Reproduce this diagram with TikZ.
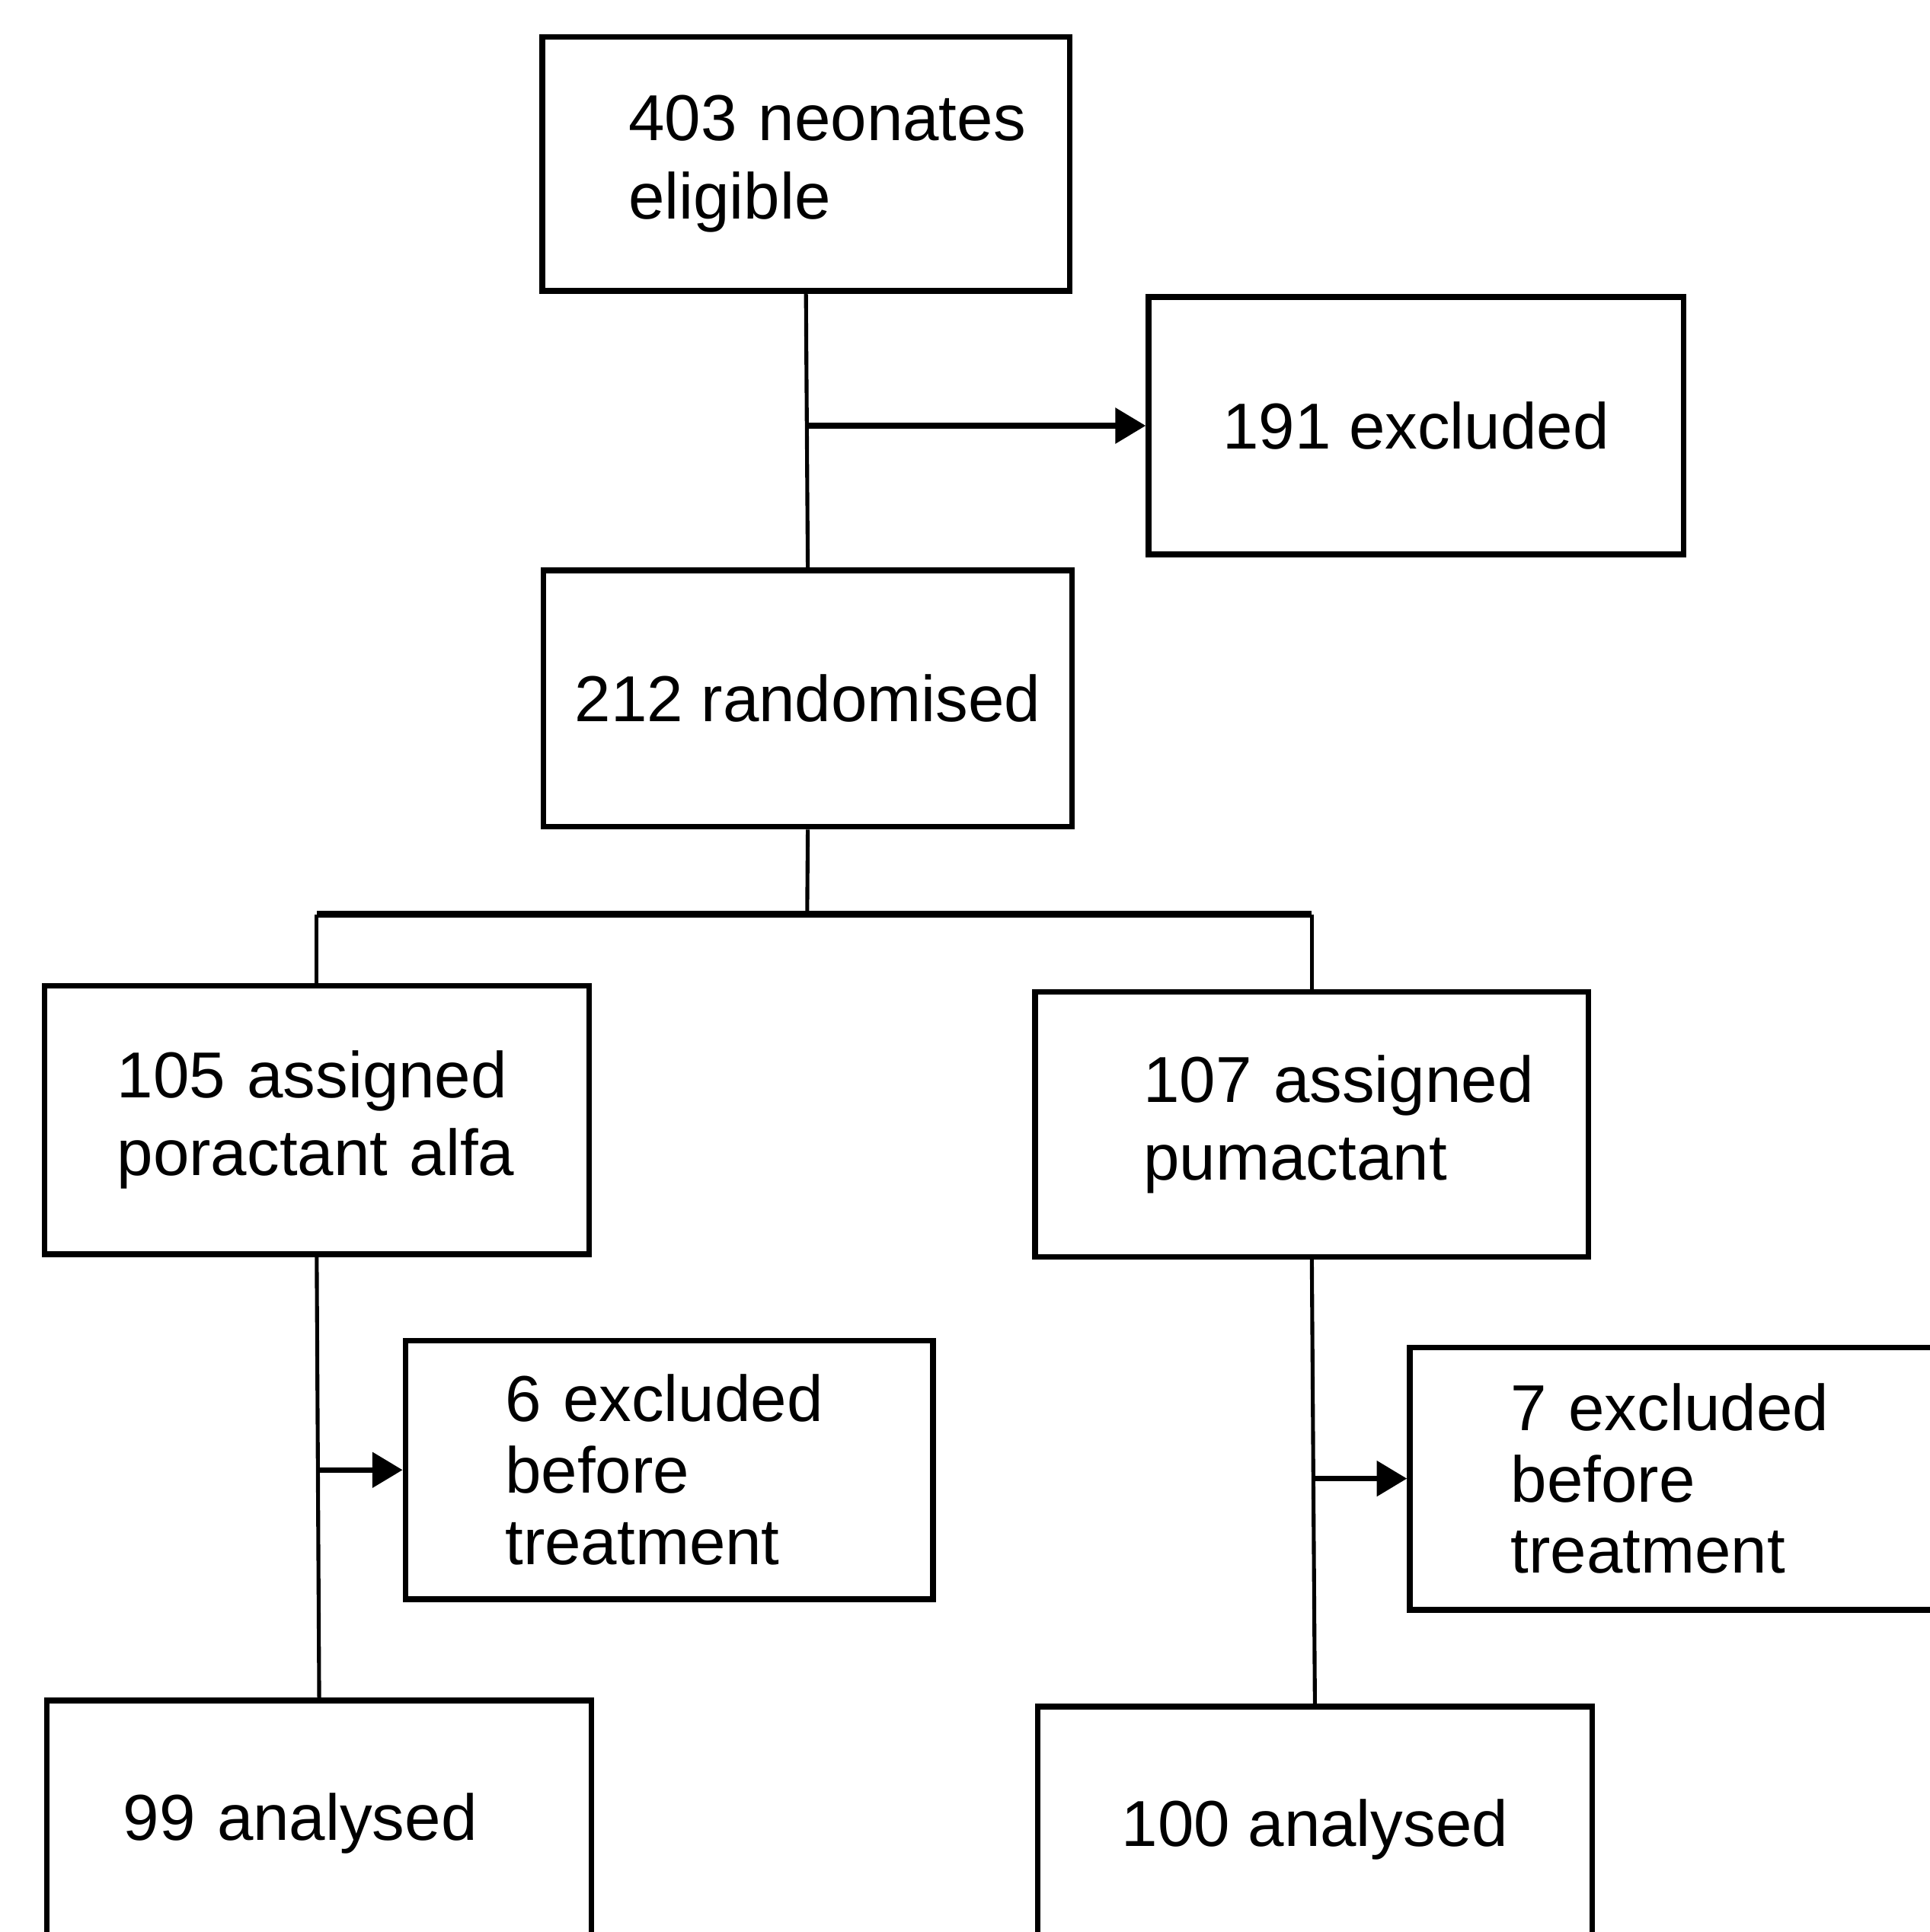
\documentclass[tikz,border=0pt]{standalone}
\usepackage{fontspec}
\setmainfont{Liberation Sans}
\usetikzlibrary{arrows.meta}

\begin{document}
\begin{tikzpicture}
\useasboundingbox (0,0) rectangle (15.66,-15.68);
\clip (0,0) rectangle (15.66,-15.68);

\coordinate (P_elig) at (6.54, -1.33);
\coordinate (P_excl) at (11.49, -3.455);
\coordinate (P_rand) at (6.555, -5.67);
\coordinate (P_alfa) at (2.57, -9.09);
\coordinate (P_puma) at (10.645, -9.125);
\coordinate (P_exclA) at (5.43, -11.93);
\coordinate (P_exclP) at (13.62, -12.0);
\coordinate (P_anA) at (2.59, -14.80);
\coordinate (P_anP) at (10.67, -14.85);
\coordinate (Fork) at (6.55, -7.42);


\tikzset{BoxStyle/.style = {
 draw,
 line width = 1.3pt,
 inner sep = 0pt,
 text = black,
 font = \fontsize{15}{18}\selectfont} }
\tikzset{TightStyle/.style = {BoxStyle, font = \fontsize{15}{16.5}\selectfont} }

\node[BoxStyle, minimum width=4.28cm, minimum height=2.06cm, align=left, text width=2.88cm] (Elig) at (P_elig) {\mbox{403 neonates}\\eligible};
\node[BoxStyle, minimum width=4.34cm, minimum height=2.09cm, align=center] (Excl) at (P_excl) {191 excluded};
\node[BoxStyle, minimum width=4.29cm, minimum height=2.08cm, align=center] (Rand) at (P_rand) {212 randomised};
\node[BoxStyle, minimum width=4.42cm, minimum height=2.18cm, align=left, text width=3.24cm] (Alfa) at (P_alfa) {\mbox{105 assigned}\\\mbox{poractant alfa}};
\node[BoxStyle, minimum width=4.49cm, minimum height=2.15cm, align=left, text width=2.73cm] (Puma) at (P_puma) {\mbox{107 assigned}\\pumactant};
\node[TightStyle, minimum width=4.28cm, minimum height=2.10cm, align=left, text width=2.66cm] (ExclA) at (P_exclA) {\mbox{6 excluded}\\before\\treatment};
\node[TightStyle, minimum width=4.36cm, minimum height=2.13cm, align=left, text width=2.72cm] (ExclP) at (P_exclP) {\mbox{7 excluded}\\before\\treatment};
\node[BoxStyle, minimum width=4.42cm, minimum height=2.00cm, align=left, text width=3.18cm] (AnA) at (P_anA) {\mbox{99 analysed}};
\node[BoxStyle, minimum width=4.50cm, minimum height=2.00cm, align=center] (AnP) at (P_anP) {100 analysed};


\tikzset{LinkStyle/.style = {line width=0.9pt} }
\tikzset{BarStyle/.style = {line width=1.5pt} }
\tikzset{ArrowStyle/.style = {line width=1.3pt, -{Triangle[length=7pt, width=8pt]}} }

\coordinate (J1) at (Elig.south |- Excl.west);
\coordinate (J2) at (Alfa.south |- ExclA.west);
\coordinate (J3) at (Puma.south |- ExclP.west);
\coordinate (ForkL) at (Alfa.north |- Fork);
\coordinate (ForkR) at (Puma.north |- Fork);

\draw[LinkStyle] (Elig.south) -- (Rand.north);
\draw[ArrowStyle] (J1) -- (Excl.west);
\draw[LinkStyle] (Rand.south) -- (Fork);
\draw[BarStyle] (ForkL) -- (ForkR);
\draw[LinkStyle] (ForkL) -- (Alfa.north);
\draw[LinkStyle] (ForkR) -- (Puma.north);
\draw[LinkStyle] (Alfa.south) -- (AnA.north);
\draw[LinkStyle] (Puma.south) -- (AnP.north);
\draw[ArrowStyle] (J2) -- (ExclA.west);
\draw[ArrowStyle] (J3) -- (ExclP.west);

\end{tikzpicture}
\end{document}
